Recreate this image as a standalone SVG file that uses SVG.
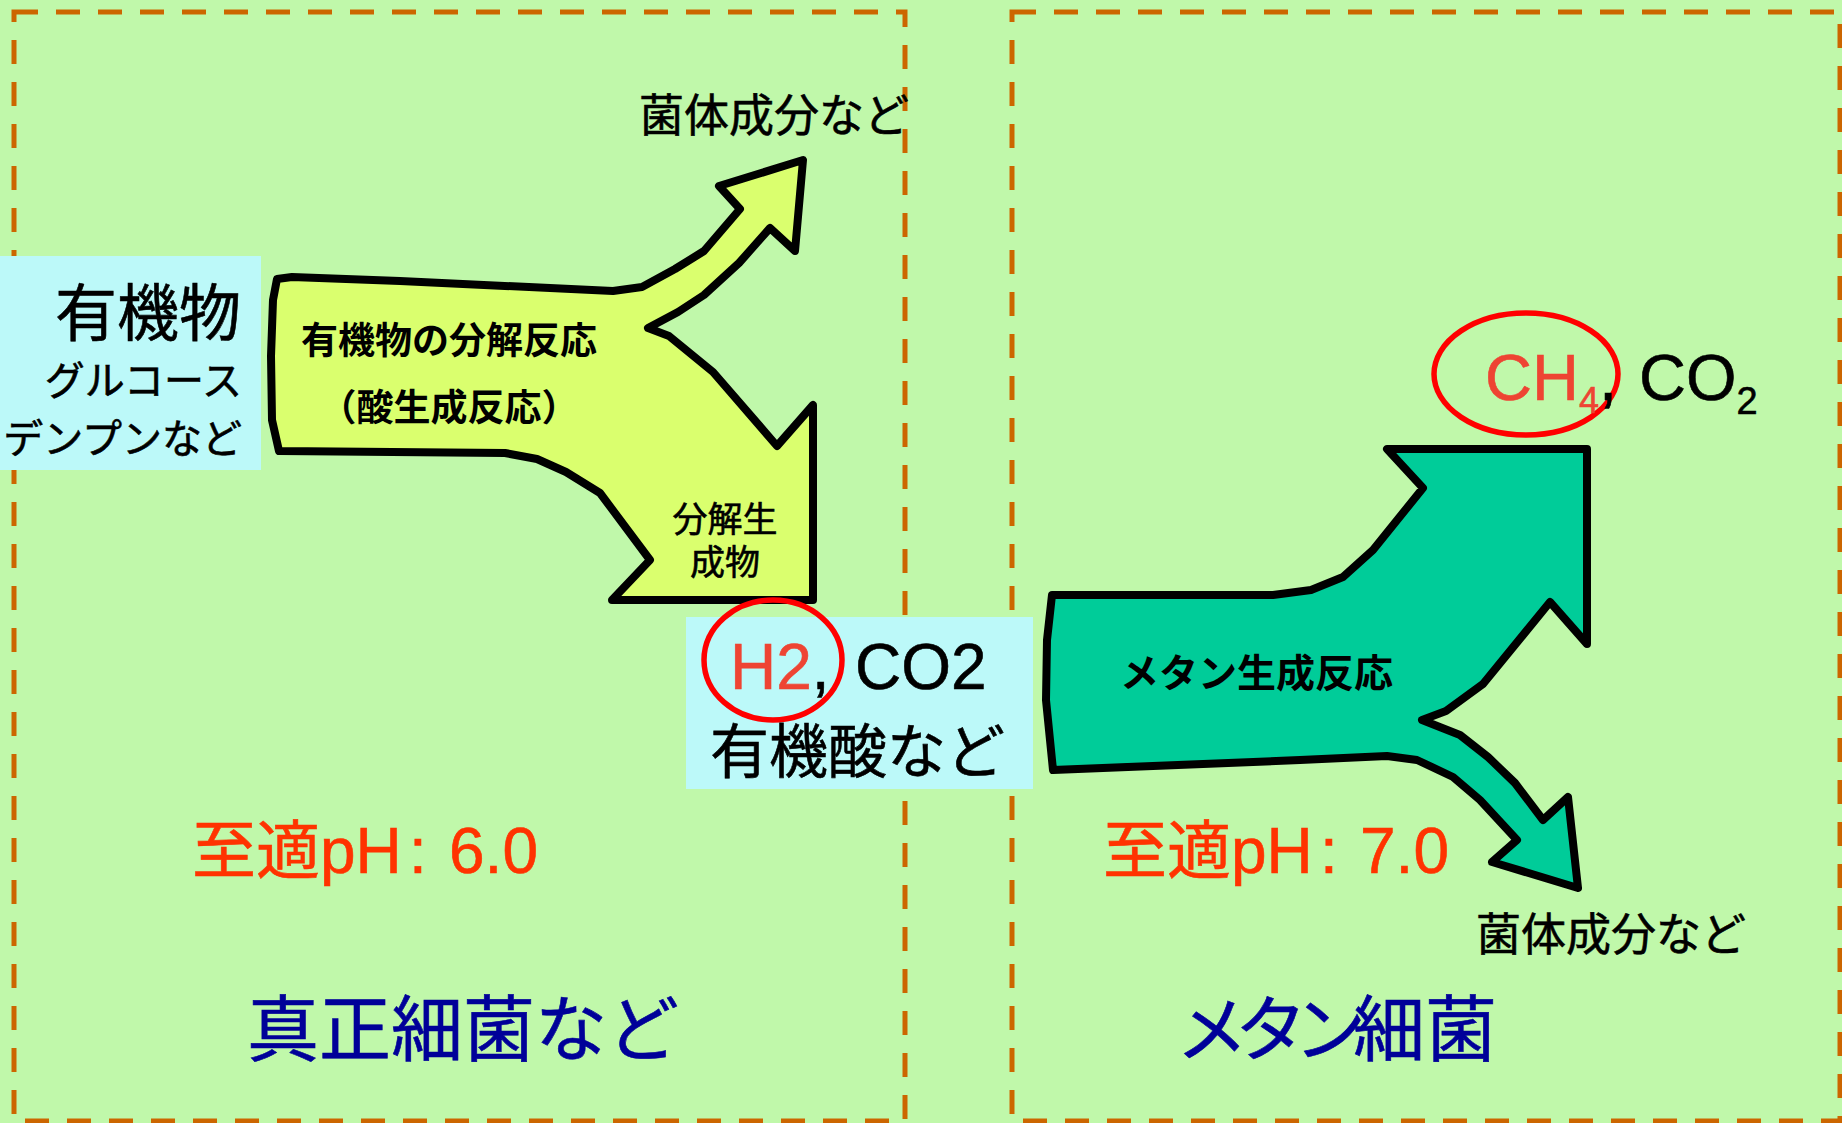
<svg xmlns="http://www.w3.org/2000/svg" width="1842" height="1123" viewBox="0 0 1842 1123">
  <style>
    .t { font-family: "Liberation Sans", "Noto Sans CJK JP", sans-serif; fill: #000; stroke: #000; stroke-width: 0.6; }
    .b { font-weight: bold; stroke-width: 0; }
    .zone { fill: none; stroke: #CC6600; stroke-width: 5; stroke-dasharray: 24 18; }
    .label-bg { fill: #BCF9F9; }
    .arrow { stroke: #000; stroke-width: 8; stroke-linejoin: round; }
    .ring { fill: none; stroke: #FF0000; stroke-width: 5.5; }
    .red { fill: #EE4433; stroke: #EE4433; }
    .ph { fill: #FF3300; stroke: #FF3300; }
    .blue { fill: #000099; stroke: #000099; }
  </style>
  <rect x="0" y="0" width="1842" height="1123" fill="#C0F8AA"/>

  <g id="zone-left">
    <rect class="zone" x="14" y="12" width="891" height="1109"/>
    <text class="t blue" x="247" y="1055" font-size="72">真正細菌など</text>
    <text class="t ph" x="192" y="873" font-size="64">至適pH<tspan x="409">:</tspan><tspan x="449">6.0</tspan></text>
  </g>

  <g id="zone-right">
    <rect class="zone" x="1012" y="12" width="828" height="1109"/>
    <text class="t blue" x="1176" y="1055" font-size="72"><tspan letter-spacing="-13">メタン</tspan><tspan x="1353">細菌</tspan></text>
    <text class="t ph" x="1103" y="873" font-size="64">至適pH<tspan x="1320">:</tspan><tspan x="1360">7.0</tspan></text>
  </g>

  <g id="input-organic">
    <rect class="label-bg" x="0" y="256" width="261" height="214"/>
    <text class="t" x="241" y="336" font-size="62" text-anchor="end">有機物</text>
    <text class="t" x="242" y="395" font-size="40" text-anchor="end">グルコース</text>
    <text class="t" x="242" y="453" font-size="40" text-anchor="end">デンプンなど</text>
  </g>

  <g id="acidogenesis">
    <path class="arrow" fill="#DAFF6E" d="M277,279 L292,277 L400,281 L613,291 L642,287 L675,269 L704,251 L740,209 L719,186 L803,160 L795,251 L770,228 L739,263 L704,295 L678,312 L648,328 L669,336 L713,372 L777,446 L813,405 L813,600 L612,600 L650,560 L600,493 L566,472 L537,459 L505,453 L279,451 L272,420 L271,356 L273,300 Z"/>
    <text class="t b" x="449" y="354" font-size="37" text-anchor="middle">有機物の分解反応</text>
    <text class="t b" x="449" y="421" font-size="37" text-anchor="middle">（酸生成反応）</text>
    <text class="t" x="725" y="532" font-size="35" text-anchor="middle">分解生</text>
    <text class="t" x="725" y="575" font-size="35" text-anchor="middle">成物</text>
  </g>

  <g id="output-cells-1">
    <text class="t" x="639" y="132" font-size="45">菌体成分など</text>
  </g>

  <g id="intermediates">
    <rect class="label-bg" x="686" y="617" width="347" height="172"/>
    <ellipse class="ring" cx="773" cy="660" rx="69" ry="60"/>
    <text class="t" x="730" y="689" font-size="64"><tspan class="red">H2</tspan>,<tspan x="855">CO2</tspan></text>
    <text class="t" x="710" y="773" font-size="59">有機酸など</text>
  </g>

  <g id="methanogenesis">
    <path class="arrow" fill="#00CC99" d="M1052,595 L1273,595 L1311,590 L1343,577 L1373,550 L1423,488 L1387,449 L1587,449 L1587,644 L1550,602 L1483,684 L1446,711 L1422,720 L1460,735 L1488,757 L1515,783 L1543,820 L1568,797 L1578,888 L1492,862 L1517,840 L1480,800 L1453,777 L1417,760 L1387,756 L1300,760 L1053,770 L1046,700 L1047,640 Z"/>
    <text class="t b" x="1120" y="687" font-size="39">メタン生成反応</text>
  </g>

  <g id="output-gas">
    <ellipse class="ring" cx="1526" cy="374" rx="92" ry="61"/>
    <text class="t" x="1485" y="400" font-size="65"><tspan class="red">CH</tspan><tspan class="red" font-size="36" dy="13">4</tspan><tspan dy="-13">,</tspan><tspan x="1639">CO</tspan><tspan font-size="38" dy="14">2</tspan></text>
  </g>

  <g id="output-cells-2">
    <text class="t" x="1476" y="951" font-size="45">菌体成分など</text>
  </g>
</svg>
